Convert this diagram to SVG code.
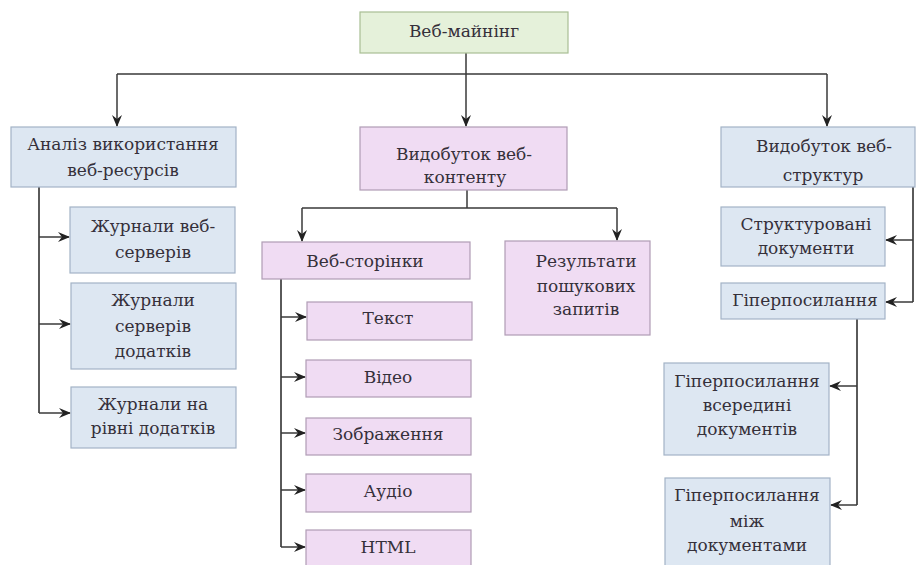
<svg xmlns="http://www.w3.org/2000/svg" width="916" height="565" viewBox="0 0 916 565">
<defs>
<marker id="ah" viewBox="0 0 12 10" refX="11" refY="5" markerWidth="12" markerHeight="10" markerUnits="userSpaceOnUse" orient="auto">
<path d="M0,0 L12,5 L0,10 L4,5 z" fill="#222"/>
</marker>
<style>
.g{fill:#e5f1da;stroke:#a8bf94;stroke-width:1.2}
.b{fill:#dde7f2;stroke:#a3b3c6;stroke-width:1.2}
.p{fill:#f0dcf3;stroke:#b09cb5;stroke-width:1.2}
text{font-family:"DejaVu Serif","Liberation Serif",serif;font-size:17px;fill:#35303a;text-anchor:middle}
.c{fill:none;stroke:#3a3a3a;stroke-width:1.5}
.t{fill:none;stroke:#5a5a5a;stroke-width:2}
</style>
</defs>
<g id="connectors">
<path class="c" d="M466,53 V74 M117,74 H827"/>
<path class="c" d="M117,74 V126" marker-end="url(#ah)"/>
<path class="c" d="M466,74 V126" marker-end="url(#ah)"/>
<path class="c" d="M827,74 V126" marker-end="url(#ah)"/>
<path class="t" d="M39,187 V413"/>
<path class="c" d="M39,237 H69" marker-end="url(#ah)"/>
<path class="c" d="M39,324 H70" marker-end="url(#ah)"/>
<path class="c" d="M39,413 H70" marker-end="url(#ah)"/>
<path class="c" d="M467,190 V208 M302,208 H617"/>
<path class="c" d="M302,208 V241" marker-end="url(#ah)"/>
<path class="c" d="M617,208 V240" marker-end="url(#ah)"/>
<path class="t" d="M281,279 V547"/>
<path class="c" d="M281,317 H306" marker-end="url(#ah)"/>
<path class="c" d="M281,377 H305" marker-end="url(#ah)"/>
<path class="c" d="M281,433 H305" marker-end="url(#ah)"/>
<path class="c" d="M281,490 H305" marker-end="url(#ah)"/>
<path class="c" d="M281,547 H305" marker-end="url(#ah)"/>
<path class="t" d="M913,187 V302"/>
<path class="c" d="M913,240 H886" marker-end="url(#ah)"/>
<path class="c" d="M913,302 H886" marker-end="url(#ah)"/>
<path class="t" d="M857,319 V505"/>
<path class="c" d="M857,386 H830" marker-end="url(#ah)"/>
<path class="c" d="M857,505 H831" marker-end="url(#ah)"/>
</g>
<g id="n-root"><rect class="g" x="360" y="12" width="208" height="41"/><text x="464" y="37">Веб-майнінг</text></g>
<g id="n-usage"><rect class="b" x="11" y="127" width="225" height="60"/><text x="123" y="150">Аналіз використання</text><text x="123" y="176">веб-ресурсів</text></g>
<g id="n-websrv"><rect class="b" x="70" y="207" width="165" height="66"/><text x="153" y="232">Журнали веб-</text><text x="153" y="258">серверів</text></g>
<g id="n-appsrv"><rect class="b" x="71" y="283" width="165" height="86"/><text x="153" y="306">Журнали</text><text x="153" y="332">серверів</text><text x="153" y="357">додатків</text></g>
<g id="n-applvl"><rect class="b" x="71" y="387" width="165" height="61"/><text x="153" y="410">Журнали на</text><text x="153" y="434">рівні додатків</text></g>
<g id="n-content"><rect class="p" x="360" y="127" width="207" height="63"/><text x="464" y="160">Видобуток веб-</text><text x="465" y="183">контенту</text></g>
<g id="n-pages"><rect class="p" x="262" y="242" width="208" height="37"/><text x="365" y="267">Веб-сторінки</text></g>
<g id="n-search"><rect class="p" x="505" y="241" width="145" height="94"/><text x="586" y="267">Результати</text><text x="586" y="292">пошукових</text><text x="586" y="315">запитів</text></g>
<g id="n-text"><rect class="p" x="307" y="302" width="165" height="38"/><text x="388" y="324">Текст</text></g>
<g id="n-video"><rect class="p" x="306" y="360" width="165" height="37"/><text x="388" y="383">Відео</text></g>
<g id="n-image"><rect class="p" x="306" y="418" width="165" height="37"/><text x="388" y="440">Зображення</text></g>
<g id="n-audio"><rect class="p" x="306" y="474" width="165" height="38"/><text x="388" y="497">Аудіо</text></g>
<g id="n-html"><rect class="p" x="306" y="530" width="165" height="40"/><text x="388" y="553">HTML</text></g>
<g id="n-struct"><rect class="b" x="721" y="127" width="194" height="60"/><text x="824" y="152">Видобуток веб-</text><text x="823" y="181">структур</text></g>
<g id="n-structdocs"><rect class="b" x="721" y="207" width="164" height="59"/><text x="806" y="230">Структуровані</text><text x="806" y="254">документи</text></g>
<g id="n-hyper"><rect class="b" x="721" y="283" width="164" height="36"/><text x="805" y="306">Гіперпосилання</text></g>
<g id="n-hyperin"><rect class="b" x="664" y="363" width="165" height="92"/><text x="747" y="387">Гіперпосилання</text><text x="747" y="411">всередині</text><text x="747" y="435">документів</text></g>
<g id="n-hyperbetween"><rect class="b" x="665" y="478" width="165" height="92"/><text x="747" y="501">Гіперпосилання</text><text x="747" y="527">між</text><text x="747" y="551">документами</text></g>
</svg>
